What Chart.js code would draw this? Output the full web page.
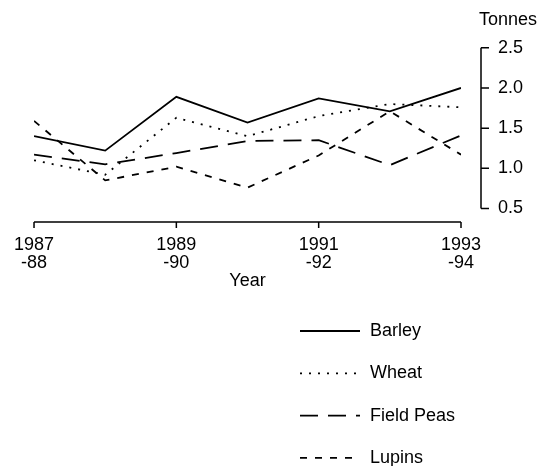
<!DOCTYPE html>
<html>
<head>
<meta charset="utf-8">
<script src="https://cdn.jsdelivr.net/npm/chart.js@4/dist/chart.umd.min.js"></script>
<style>
  html, body { margin: 0; padding: 0; background: #fff; }
</style>
</head>
<body>
<canvas id="chart" width="553" height="466"></canvas>
<script>
const seasons = [1987, 1988, 1989, 1990, 1991, 1992, 1993];
const barley = [1.40, 1.22, 1.89, 1.57, 1.87, 1.71, 2.00];
const wheat = [1.10, 0.92, 1.63, 1.40, 1.65, 1.80, 1.76];
const fieldPeas = [1.17, 1.05, 1.19, 1.34, 1.35, 1.04, 1.41];
const lupins = [1.59, 0.85, 1.02, 0.76, 1.16, 1.71, 1.17];
const xTicks = [1987, 1989, 1991, 1993];
const xTickLabels = [["1987", "-88"], ["1989", "-90"], ["1991", "-92"], ["1993", "-94"]];
const yTicks = [0.5, 1.0, 1.5, 2.0, 2.5];

Chart.defaults.font.family = '"Liberation Sans", Arial, sans-serif';
Chart.defaults.font.size = 18;
Chart.defaults.color = "#000";

const series = (label, values, dash) => ({
    label: label,
    data: seasons.map((s, i) => ({ x: s, y: values[i] })),
    borderColor: "#000",
    borderWidth: 1.8,
    borderDash: dash,
    pointRadius: 0,
    tension: 0,
    fill: false
});

// axes, "Tonnes" and the legend are drawn by hand to get the old print look
const paperAxes = {
    id: "paperAxes",
    afterDraw(chart) {
        const { ctx, chartArea, scales: { x, y } } = chart;
        ctx.save();
        ctx.strokeStyle = "#000";
        ctx.lineWidth = 1.5;
        ctx.setLineDash([]);

        // x axis with ticks pointing down
        const yb = chartArea.bottom;
        ctx.beginPath();
        ctx.moveTo(x.getPixelForValue(xTicks[0]), yb);
        ctx.lineTo(x.getPixelForValue(xTicks[xTicks.length - 1]), yb);
        xTicks.forEach(v => {
            const px = x.getPixelForValue(v);
            ctx.moveTo(px, yb);
            ctx.lineTo(px, yb + 6);
        });
        ctx.stroke();

        // y axis bracket on the right
        const ax = chartArea.right + 20;
        ctx.beginPath();
        ctx.moveTo(ax, y.getPixelForValue(yTicks[0]));
        ctx.lineTo(ax, y.getPixelForValue(yTicks[yTicks.length - 1]));
        yTicks.forEach(v => {
            const py = y.getPixelForValue(v);
            ctx.moveTo(ax, py);
            ctx.lineTo(ax + 8, py);
        });
        ctx.stroke();

        ctx.fillStyle = "#000";
        ctx.font = '18px "Liberation Sans", Arial, sans-serif';
        ctx.textBaseline = "middle";
        ctx.textAlign = "left";
        ctx.fillText("Tonnes", ax - 2, 20);

        // legend
        chart.data.datasets.forEach((ds, i) => {
            const ly = 331 + i * 42.3;
            ctx.beginPath();
            ctx.lineWidth = ds.borderWidth;
            ctx.setLineDash(ds.borderDash || []);
            ctx.moveTo(300, ly);
            ctx.lineTo(360, ly);
            ctx.stroke();
            ctx.setLineDash([]);
            ctx.fillText(ds.label, 370, ly);
        });
        ctx.restore();
    }
};

new Chart(document.getElementById("chart"), {
    type: "line",
    data: {
        datasets: [
            series("Barley", barley, []),
            series("Wheat", wheat, [2, 7]),
            series("Field Peas", fieldPeas, [18, 10]),
            series("Lupins", lupins, [7, 8])
        ]
    },
    options: {
        responsive: false,
        animation: false,
        layout: { padding: { left: 33, top: 41, right: 0, bottom: 174 } },
        plugins: { legend: { display: false }, tooltip: { enabled: false } },
        scales: {
            x: {
                type: "linear",
                min: 1987,
                max: 1993,
                afterBuildTicks: s => { s.ticks = xTicks.map(v => ({ value: v })); },
                afterFit: s => { s.height = 70; },
                grid: { display: false, drawTicks: false },
                border: { display: false },
                ticks: {
                    padding: 14,
                    maxRotation: 0,
                    autoSkip: false,
                    font: { size: 18, lineHeight: 1.0 },
                    callback: (v, i) => xTickLabels[i]
                },
                title: { display: true, text: "Year", padding: 0, font: { size: 18 } }
            },
            y: {
                type: "linear",
                position: "right",
                min: 0.332,
                max: 2.5,
                afterBuildTicks: s => { s.ticks = yTicks.map(v => ({ value: v })); },
                afterFit: s => { s.width = 92; },
                grid: { display: false, drawTicks: false },
                border: { display: false },
                ticks: {
                    padding: 37,
                    font: { size: 18 },
                    callback: v => v.toFixed(1)
                }
            }
        }
    },
    plugins: [paperAxes]
});
</script>
</body>
</html>
